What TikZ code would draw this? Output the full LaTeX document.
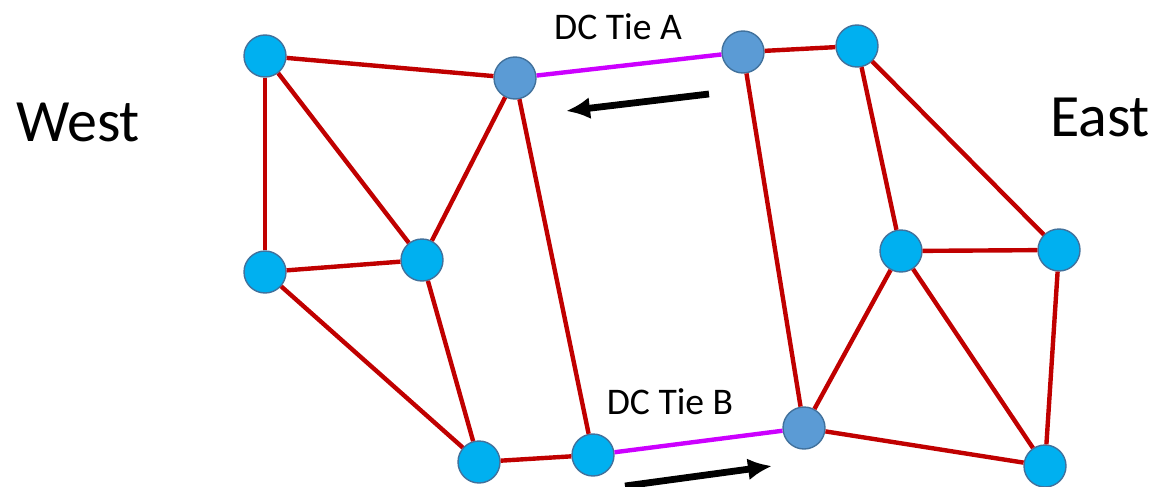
\documentclass[tikz,border=0pt]{standalone}
\usepackage{fontspec}
\setmainfont{Carlito}
\usetikzlibrary{arrows.meta}
\definecolor{busblue}{HTML}{00B0F0}
\definecolor{tieblue}{HTML}{5B9BD5}
\definecolor{rimblue}{HTML}{41719C}
\definecolor{acred}{HTML}{C00000}
\definecolor{dcpink}{HTML}{CC00FF}
\tikzset{
  bus/.style={circle,draw=rimblue,line width=0.7pt,fill=busblue,minimum size=21pt,inner sep=0pt},
  tiebus/.style={bus,fill=tieblue},
  acline/.style={acred,line width=2.2pt},
  dcline/.style={dcpink,line width=2.2pt},
  flow/.style={-{Latex[length=12pt,width=11pt]},line width=3.4pt},
}
\begin{document}
\begin{tikzpicture}[x=0.5pt,y=-0.5pt]
  \useasboundingbox (0,0) rectangle (1156,487);

  % west area
  \node[bus] (w1) at (265,56) {};
  \node[bus] (w2) at (265,272) {};
  \node[bus] (w3) at (422,260) {};
  \node[bus] (w4) at (479,462) {};
  \node[bus] (w5) at (593,455) {};
  \node[tiebus] (ta) at (515,78) {};

  % east area
  \node[tiebus] (tae) at (743,52) {};
  \node[bus] (e1) at (857,46) {};
  \node[bus] (e2) at (901,251) {};
  \node[bus] (e3) at (1059,250) {};
  \node[bus] (e4) at (1045,466) {};
  \node[tiebus] (tbe) at (804,428) {};

  \foreach \a/\b in {w1/ta,w1/w2,w1/w3,w2/w3,w2/w4,w3/ta,w3/w4,w4/w5,ta/w5,
                     tae/e1,tae/tbe,e1/e2,e1/e3,e2/e3,e2/tbe,e2/e4,e3/e4,tbe/e4}
    \draw[acline] (\a) -- (\b);

  \draw[dcline] (ta) -- (tae);
  \draw[dcline] (w5) -- (tbe);

  \node (tieA) at (618,27) {\fontsize{18.8pt}{22pt}\selectfont DC Tie A};
  \node (tieB) at (670,402) {\fontsize{18.8pt}{22pt}\selectfont DC Tie B};
  \node (west) at (78,122) {\fontsize{30pt}{35pt}\selectfont West};
  \node (east) at (1100,117) {\fontsize{30pt}{35pt}\selectfont East};

  % power flow
  \coordinate (fa1) at (709,94);
  \coordinate (fa2) at (566,111);
  \coordinate (fb1) at (625,486);
  \coordinate (fb2) at (772,466);
  \draw[flow] (fa1) -- (fa2);
  \draw[flow] (fb1) -- (fb2);
\end{tikzpicture}
\end{document}
